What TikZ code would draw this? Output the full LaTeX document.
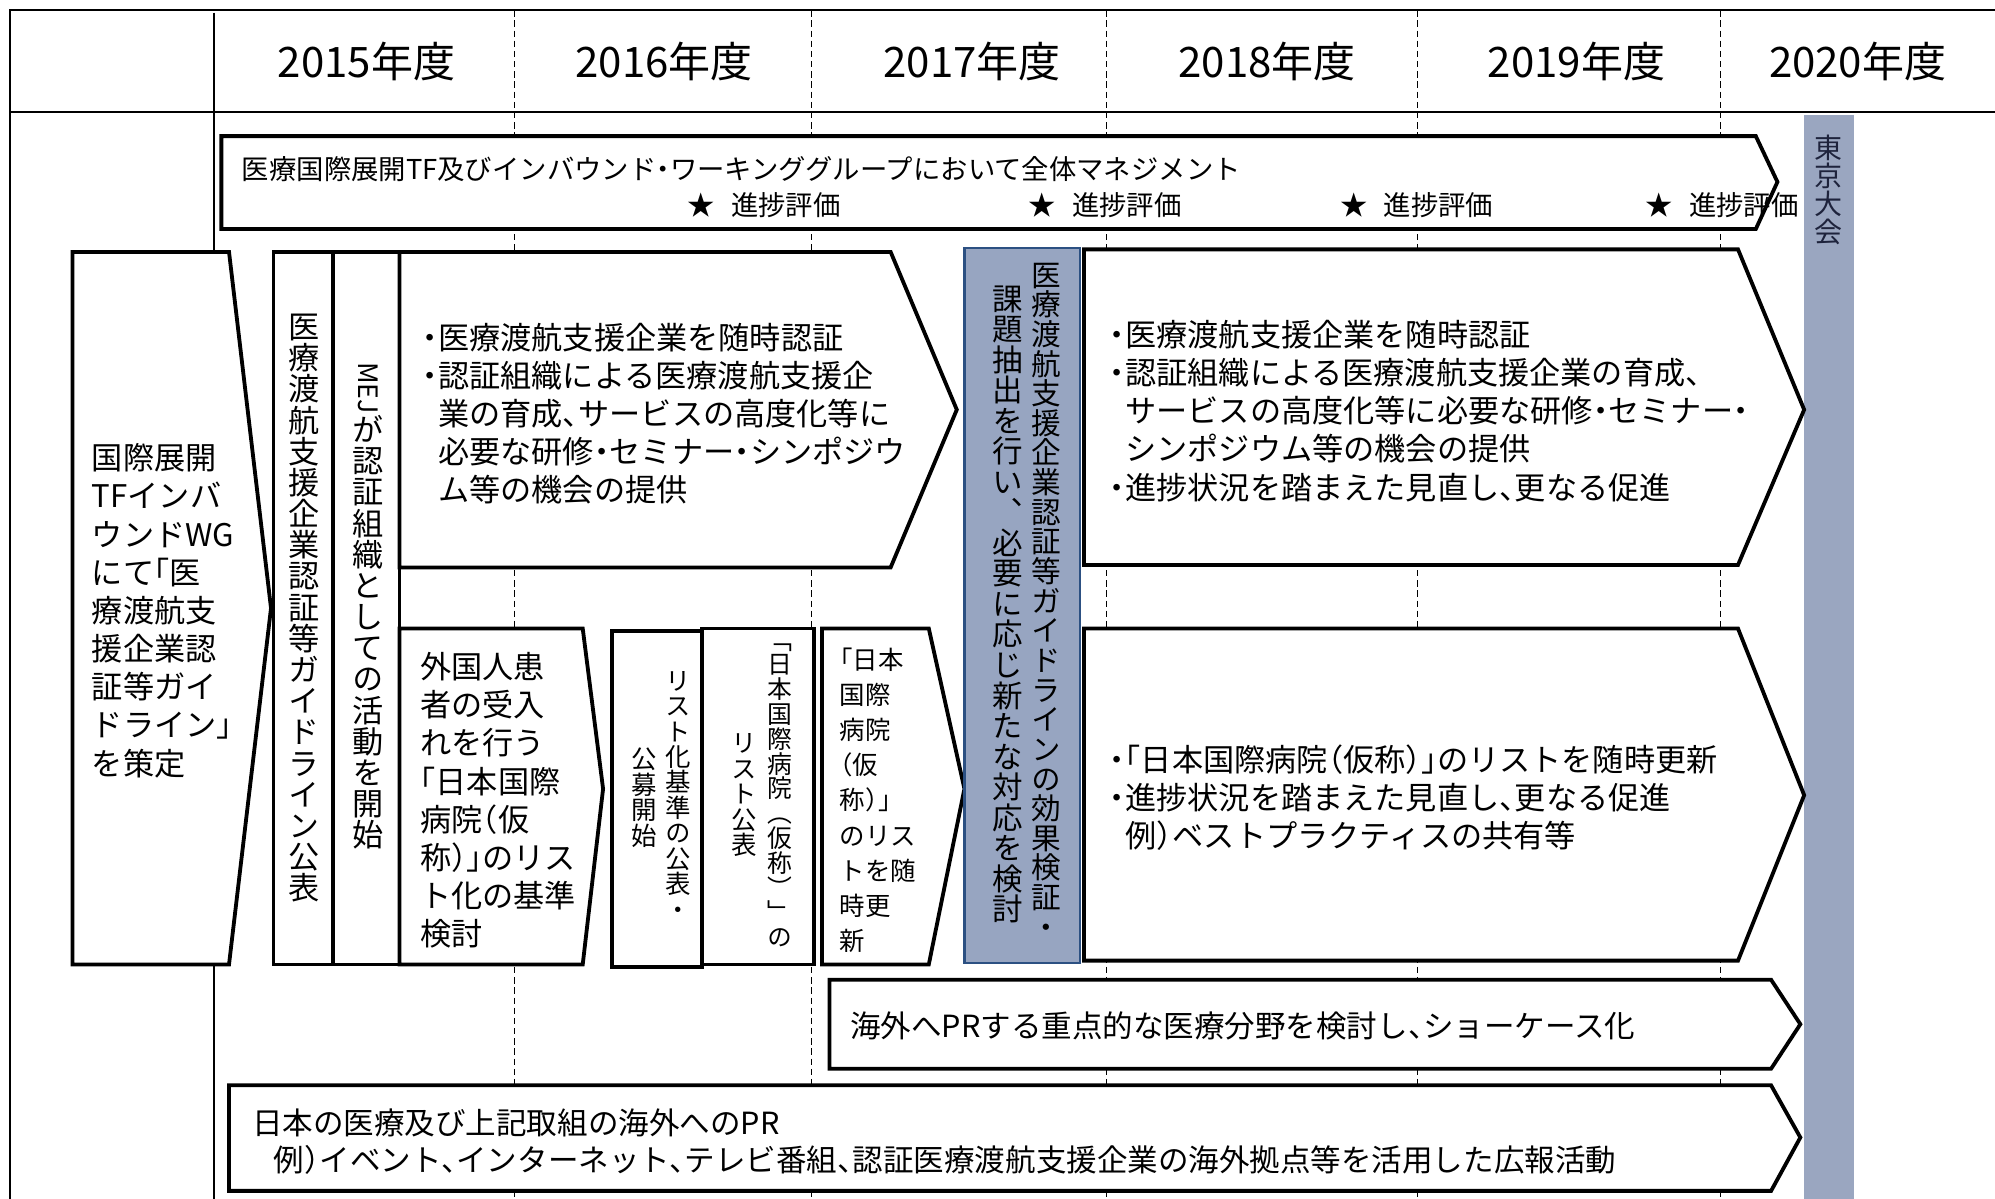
\documentclass[tikz,border=0pt]{standalone}
\usepackage{fontspec}
\setmainfont[RawFeature=+halt]{Noto Sans CJK JP}
\newfontfamily\jp[RawFeature=+halt]{Noto Sans CJK JP}
\newfontfamily\jpplain{Noto Sans CJK JP}
\newfontfamily\vjp[RawFeature=+vert]{Noto Sans CJK JP}
\newcommand{\vsetfont}[1]{\vjp\fontsize{#1}{#1}\selectfont\lineskiplimit-50pt\lineskip0pt\relax}
\definecolor{barblue}{RGB}{154,166,192}
\definecolor{boxblue}{RGB}{151,165,193}
\definecolor{edgeblue}{RGB}{44,80,130}
\definecolor{bartext}{RGB}{30,35,60}
\tikzset{
  box/.style={draw=black,line width=3pt,fill=white,line join=miter},
  bluebox/.style={draw=edgeblue,line width=1.8pt,fill=boxblue},
  thinrule/.style={draw=black,line width=1.2pt},
  headrule/.style={draw=black,line width=2.2pt},
  mainrule/.style={draw=black,line width=1.8pt},
  yearline/.style={draw=black,line width=0.8pt,dash pattern=on 5pt off 3pt},
  lbl/.style={inner sep=0pt,anchor=west,align=left},
  vst/.style={inner sep=0pt,align=center},
  vfont/.style={font={\vsetfont{#1}}},
  fyear/.style={font=\jp\fontsize{33}{36}\selectfont},
  fstrip/.style={font=\jp\fontsize{21.5}{26}\selectfont},
  fbody/.style={font=\jp\fontsize{24.5}{30}\selectfont},
  fsmall/.style={font=\jp\fontsize{20}{27.6}\selectfont},
  fbottom/.style={font=\jp\fontsize{24}{29}\selectfont},
}
\begin{document}
\begin{tikzpicture}[x=1pt,y=-1pt]
\useasboundingbox (0,0) rectangle (1568,942);
\fill[white] (0,0) rectangle (1568,942);
% year separators
\foreach \xx in {404,638,870,1114,1352} \draw[yearline] (\xx,8) -- (\xx,942);
% table frame
\draw[thinrule] (8,942) -- (8,8) -- (1568,8);
\draw[headrule] (8,88) -- (1568,88);
\draw[mainrule] (168,10) -- (168,942);
% year headers
\node[fyear,inner sep=0pt] (y2015) at (288,48) {2015年度};
\node[fyear,inner sep=0pt] (y2016) at (522,48) {2016年度};
\node[fyear,inner sep=0pt] (y2017) at (764,48) {2017年度};
\node[fyear,inner sep=0pt] (y2018) at (996,48) {2018年度};
\node[fyear,inner sep=0pt] (y2019) at (1239,48) {2019年度};
\node[fyear,inner sep=0pt] (y2020) at (1460,48) {2020年度};
% Tokyo bar
\fill[barblue] (1418,90) rectangle (1457,942);
\node[vst,vfont=22,text=bartext] (tokyo) at (1437,149) {東\\京\\大\\会};
% management arrow
\draw[box] (174,107) -- (1380,107) -- (1397,143) -- (1380,180) -- (174,180) -- cycle;
\node[lbl,fstrip] (mgmt) at (190,133) {医療国際展開TF及びインバウンド・ワーキンググループにおいて全体マネジメント};
\node[lbl,fstrip] (ev1) at (540,161) {★\hspace{13pt}進捗評価};
\node[lbl,fstrip] (ev2) at (808,161) {★\hspace{13pt}進捗評価};
\node[lbl,fstrip] (ev3) at (1053,161) {★\hspace{13pt}進捗評価};
\node[lbl,fstrip] (ev4) at (1293,161) {★\hspace{13pt}進捗評価};
% left guideline arrow
\draw[box] (57,198) -- (180,198) -- (213,478) -- (180,758) -- (57,758) -- cycle;
\node[lbl,fbody] (guide) at (72,480) {国際展開\\TFインバ\\ウンドWG\\にて「医\\療渡航支\\援企業認\\証等ガイ\\ドライン」\\を策定};
% two vertical strips
\draw[box] (215,198) rectangle (262,758);
\node[vst,vfont=24.5] (pub) at (239,478) {医\\療\\渡\\航\\支\\援\\企\\業\\認\\証\\等\\ガ\\イ\\ド\\ラ\\イ\\ン\\公\\表};
\draw[box] (262,198) rectangle (314,758);
\node[inner sep=0pt,rotate=-90,font=\jpplain\fontsize{21}{21}\selectfont] (mej) at (289,305) {MEJ};
\node[vst,vfont=24.5] (mejact) at (289,497) {が\\認\\証\\組\\織\\と\\し\\て\\の\\活\\動\\を\\開\\始};
% 2015-2016 certification arrow
\draw[box] (314,198) -- (700,198) -- (752,322) -- (700,446) -- (314,446) -- cycle;
\node[lbl,fbody] (cert1) at (332,325) {・医療渡航支援企業を随時認証\\・認証組織による医療渡航支援企\\\hphantom{・}業の育成、サービスの高度化等に\\\hphantom{・}必要な研修・セミナー・シンポジウ\\\hphantom{・}ム等の機会の提供};
% hospital list criteria arrow
\draw[box] (314,494) -- (458,494) -- (474,620) -- (458,758) -- (314,758) -- cycle;
\node[lbl,fbody] (crit) at (330,629) {外国人患\\者の受入\\れを行う\\「日本国際\\病院（仮\\称）」のリス\\ト化の基準\\検討};
% publication boxes
\draw[box] (481,496) rectangle (552,760);
\node[vst,vfont=20] (critpubA) at (533,625) {リ\\ス\\ト\\化\\基\\準\\の\\公\\表\\・};
\node[vst,vfont=20] (critpubB) at (506,627) {公\\募\\開\\始};
\draw[box] (552,494) rectangle (640,758);
\node[vst,vfont=19.5] (listpubA) at (613,625) {「\\日\\本\\国\\際\\病\\院\\（\\仮\\称\\）\\」\\の};
\node[vst,vfont=20] (listpubB) at (585,625) {リ\\ス\\ト\\公\\表};
% list update arrow
\draw[box] (646,494) -- (730,494) -- (758,620) -- (730,758) -- (646,758) -- cycle;
\node[lbl,fsmall] (listupd) at (660,629) {「日本\\国際\\病院\\（仮\\称）」\\のリス\\トを随\\時更\\新};
% review box
\draw[bluebox] (758,195) rectangle (849,757);
\node[vst,vfont=23.3] (reviewA) at (822,472) {医\\療\\渡\\航\\支\\援\\企\\業\\認\\証\\等\\ガ\\イ\\ド\\ラ\\イ\\ン\\の\\効\\果\\検\\証\\・};
\node[vst,vfont=24] (reviewB) at (792,475) {課\\題\\抽\\出\\を\\行\\い\\、\\必\\要\\に\\応\\じ\\新\\た\\な\\対\\応\\を\\検\\討};
% 2018-2020 arrows
\draw[box] (852,196) -- (1366,196) -- (1418,322) -- (1366,444) -- (852,444) -- cycle;
\node[lbl,fbody] (cert2) at (872,323) {・医療渡航支援企業を随時認証\\・認証組織による医療渡航支援企業の育成、\\\hphantom{・}サービスの高度化等に必要な研修・セミナー・\\\hphantom{・}シンポジウム等の機会の提供\\・進捗状況を踏まえた見直し、更なる促進};
\draw[box] (852,494) -- (1366,494) -- (1418,625) -- (1366,755) -- (852,755) -- cycle;
\node[lbl,fbody] (listupd2) at (872,627) {・「日本国際病院（仮称）」のリストを随時更新\\・進捗状況を踏まえた見直し、更なる促進\\\hphantom{・}例）ベストプラクティスの共有等};
% PR arrows
\draw[box] (652,770) -- (1392,770) -- (1415,805) -- (1392,840) -- (652,840) -- cycle;
\node[lbl,fbottom] (show) at (668,806) {海外へPRする重点的な医療分野を検討し、ショーケース化};
\draw[box] (180,853) -- (1392,853) -- (1415,894) -- (1392,936) -- (180,936) -- cycle;
\node[lbl,fbottom] (pr) at (198,897) {日本の医療及び上記取組の海外へのPR\\\hspace{17pt}例）イベント、インターネット、テレビ番組、認証医療渡航支援企業の海外拠点等を活用した広報活動};
\end{tikzpicture}
\end{document}
